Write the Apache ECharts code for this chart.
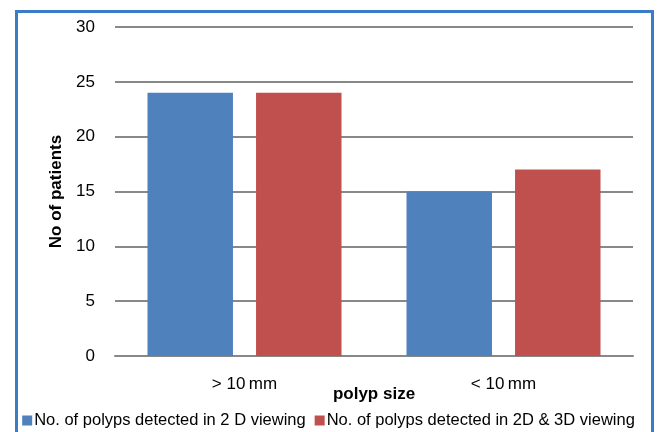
<!DOCTYPE html>
<html><head><meta charset="utf-8">
<script src="https://cdn.jsdelivr.net/npm/echarts@6/dist/echarts.min.js"></script>
<style>html,body{margin:0;padding:0;background:#fff}#c{width:657px;height:432px}</style>
</head><body><div id="c"></div>
<script>
const categories = ['> 10\u2009mm', '< 10\u2009mm'];
const series2D = [24, 15];
const series2D3D = [24, 17];
const seriesNames = ['No. of polyps detected in 2 D viewing', 'No. of polyps detected in 2D & 3D viewing'];
const yTicks = {min: 0, max: 30, interval: 5};

const chart = echarts.init(document.getElementById('c'));
const font = 'Liberation Sans, Arial, sans-serif';
chart.setOption({
  animation: false,
  backgroundColor: '#fff',
  textStyle: {fontFamily: font},
  graphic: [{
    type: 'rect', left: 14, top: 9, silent: true, z: 100,
    shape: {width: 636, height: 440},
    style: {fill: 'none', stroke: '#3b7cc8', lineWidth: 3}
  }],
  grid: {left: 115, right: 24, top: 27, bottom: 76},
  legend: {
    top: 412, left: 'center', itemWidth: 10, itemHeight: 10, itemGap: 9,
    icon: 'rect', padding: 0,
    textStyle: {fontSize: 16.5, color: '#000', fontFamily: font, padding: [0, 0, 0, -3]},
    data: seriesNames
  },
  xAxis: {
    type: 'category', data: categories,
    name: 'polyp size', nameLocation: 'middle', nameGap: 30, nameMoveOverlap: false,
    nameTextStyle: {fontSize: 17, fontWeight: 'bold', color: '#000'},
    axisLine: {lineStyle: {color: '#888', width: 2}},
    axisTick: {show: false},
    axisLabel: {fontSize: 17, color: '#000', margin: 20}
  },
  yAxis: {
    type: 'value', min: yTicks.min, max: yTicks.max, interval: yTicks.interval,
    name: 'No of patients', nameLocation: 'middle', nameGap: 50, nameMoveOverlap: false,
    nameTextStyle: {fontSize: 17, fontWeight: 'bold', color: '#000'},
    axisLine: {show: false}, axisTick: {show: false},
    axisLabel: {fontSize: 17, color: '#000', margin: 20},
    splitLine: {lineStyle: {color: '#888', width: 2}}
  },
  series: [
    {name: seriesNames[0], type: 'bar', data: series2D, barWidth: '33%', barGap: '27%', itemStyle: {color: '#4f81bd'}},
    {name: seriesNames[1], type: 'bar', data: series2D3D, barWidth: '33%', barGap: '27%', itemStyle: {color: '#c0504d'}}
  ]
});
</script></body></html>
